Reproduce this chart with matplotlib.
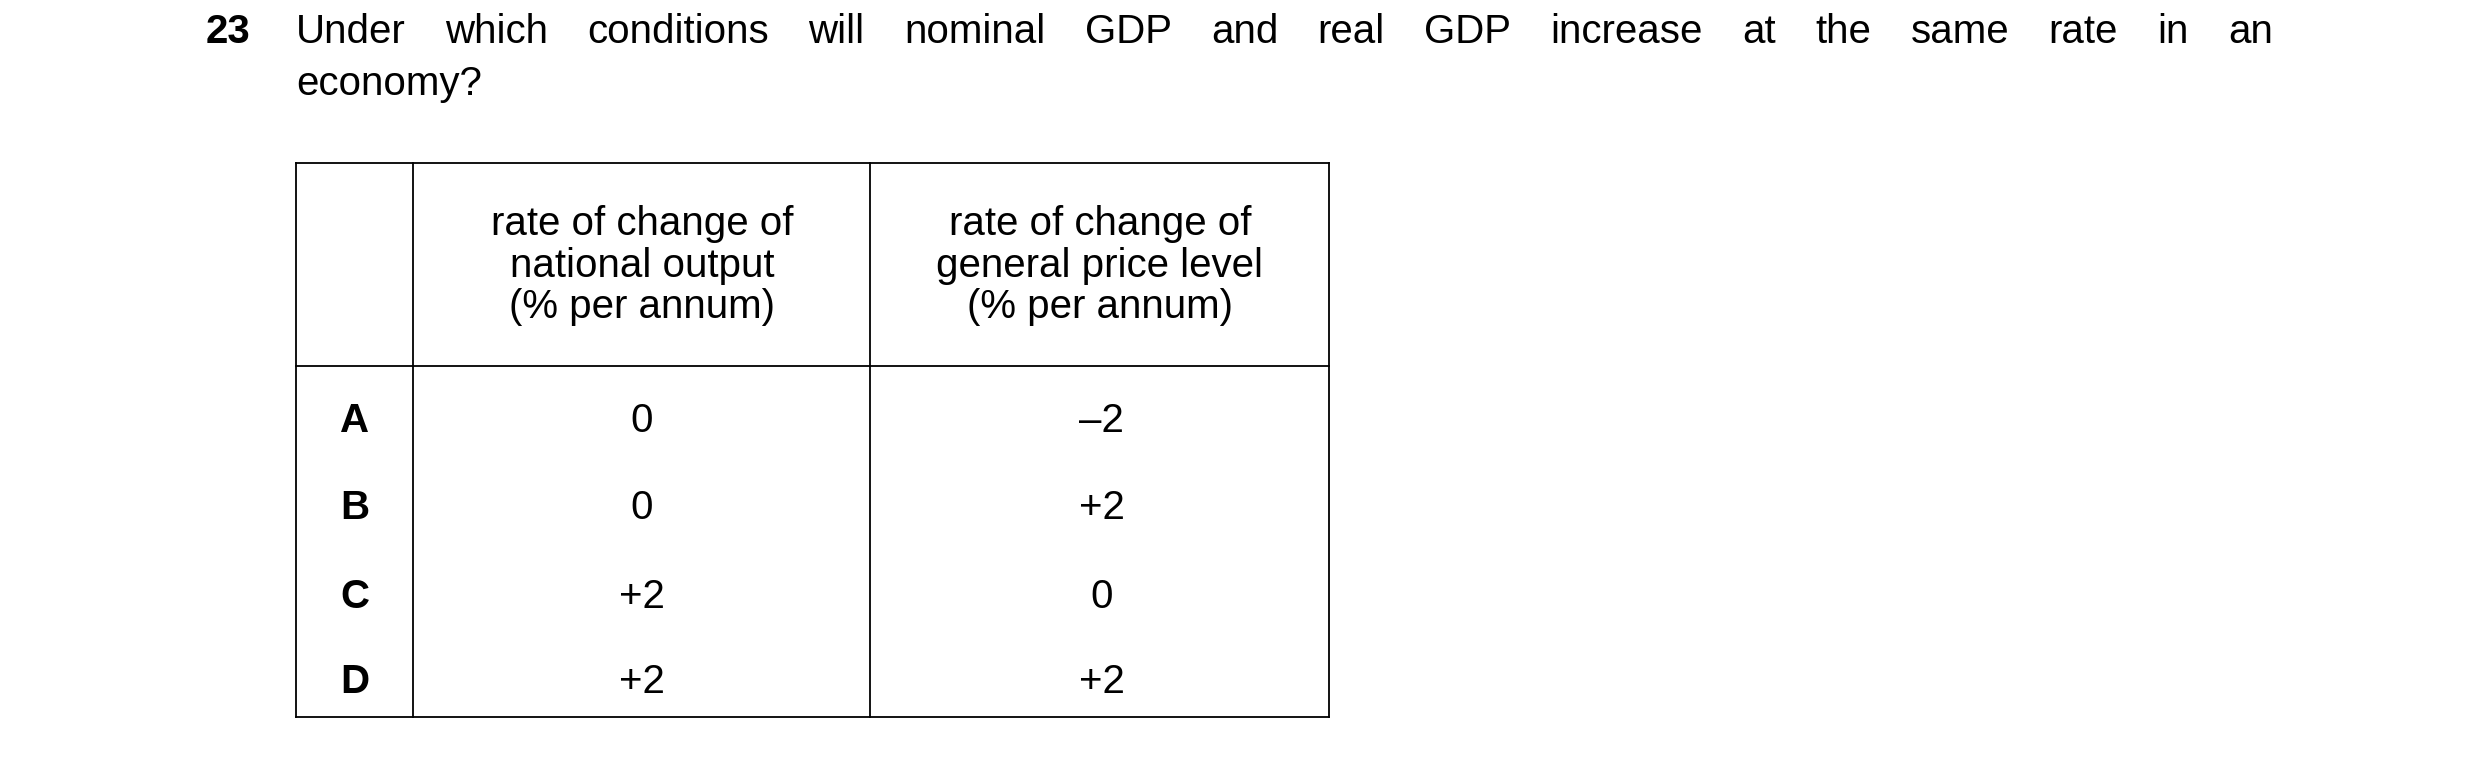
import matplotlib
matplotlib.use("Agg")
import matplotlib.pyplot as plt

qnum = "23"
line1 = "Under which conditions will nominal GDP and real GDP increase at the same rate in an"
line2 = "economy?"
headers = ["rate of change of\nnational output\n(% per annum)",
           "rate of change of\ngeneral price level\n(% per annum)"]
rows = ["A", "B", "C", "D"]
output_change = ["0", "0", "+2", "+2"]
price_change = ["\u20132", "+2", "0", "+2"]

plt.rcParams['font.family'] = ['Liberation Sans', 'DejaVu Sans']
fig = plt.figure(figsize=(24.8, 7.58), dpi=100)
ax = fig.add_axes([0, 0, 1, 1])
ax.set_xlim(0, 1567)
ax.set_ylim(479, 0)
ax.axis('off')
fs = 29

ax.text(130, 20, qnum, fontsize=fs, fontweight='bold', va='center', ha='left')
words = line1.split()
fig.canvas.draw()
r = fig.canvas.get_renderer()
tx = [ax.text(0, 20, w, fontsize=fs, va='center', ha='left') for w in words]
inv = ax.transData.inverted()
widths = []
for t in tx:
    bb = t.get_window_extent(renderer=r)
    widths.append(inv.transform((bb.x1, 0))[0] - inv.transform((bb.x0, 0))[0])
x0, x1 = 187, 1436
gap = (x1 - x0 - sum(widths)) / (len(words) - 1)
x = x0
for t, w in zip(tx, widths):
    t.set_x(x)
    x += w + gap
ax.text(187, 53, line2, fontsize=fs, va='center', ha='left')

L, R, T, HB, B = 187, 840, 103, 231, 453
c1, c2 = 261, 550
lw = 1.3
for xx in (L, c1, c2, R):
    ax.plot([xx, xx], [T, B], color='black', lw=lw)
for yy in (T, HB, B):
    ax.plot([L, R], [yy, yy], color='black', lw=lw)
ax.text((c1 + c2) / 2, 168, headers[0], fontsize=fs, ha='center', va='center', linespacing=1.12)
ax.text((c2 + R) / 2, 168, headers[1], fontsize=fs, ha='center', va='center', linespacing=1.12)
ys = [266, 321, 377, 431]
for y, lab, a, b in zip(ys, rows, output_change, price_change):
    ax.text((L + c1) / 2, y, lab, fontsize=fs, fontweight='bold', ha='center', va='center')
    ax.text((c1 + c2) / 2, y, a, fontsize=fs, ha='center', va='center')
    ax.text((c2 + R) / 2 + 1, y, b, fontsize=fs, ha='center', va='center')

fig.savefig("out.png", dpi=100, facecolor='white')
